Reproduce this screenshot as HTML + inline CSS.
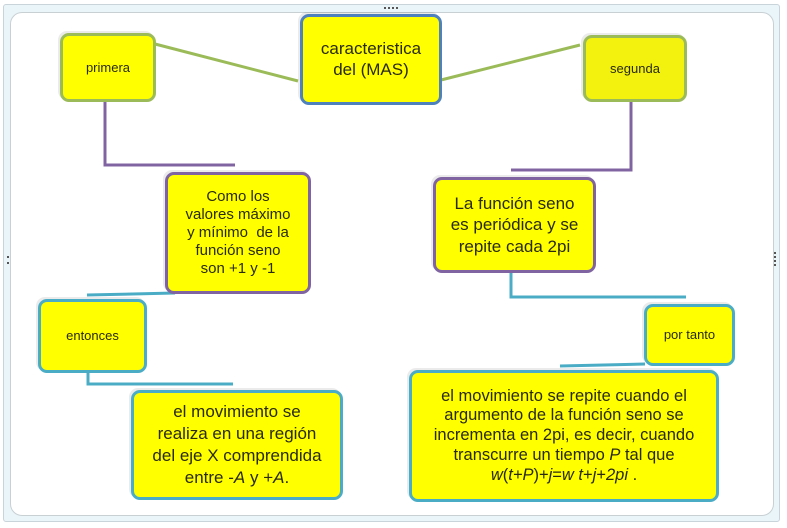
<!DOCTYPE html>
<html><head><meta charset="utf-8"><style>
body{margin:0;width:787px;height:528px;background:#fff;position:relative;overflow:hidden;font-family:"Liberation Sans",sans-serif;}
.frame{position:absolute;left:3px;top:4px;width:775px;height:516px;border:1px solid #c8d4da;background:#eaf5f9;border-radius:3px;}
.inner{position:absolute;left:10px;top:12px;width:762px;height:502px;border:1px solid #c8d0d4;background:#fff;border-radius:12px;}
.b{position:absolute;box-sizing:border-box;background:#ffff00;border-radius:9px;display:flex;align-items:center;justify-content:center;text-align:center;color:#2a2a10;line-height:1.22;box-shadow:-2px -2px 0 rgba(0,0,0,0.08);}
.b span{display:block;white-space:nowrap;}
.g{border:3px solid #9bbb59;}
.bl{border:3px solid #4f81bd;}
.p{border:3px solid #8064a2;}
.c{border:3px solid #4bacc6;}
svg{position:absolute;left:0;top:0;}
</style></head><body>
<div class="frame"></div>
<div class="inner"></div>
<svg width="787" height="528">
<g fill="none" stroke-width="3">
<line x1="155" y1="44" x2="298" y2="81" stroke="#9bbb59"/>
<line x1="441" y1="80" x2="580" y2="45" stroke="#9bbb59"/>
<polyline points="105,101 105,165 235,165" stroke="#8064a2"/>
<polyline points="631,101 631,170 511,170" stroke="#8064a2"/>
<polyline points="87,295 175,293" stroke="#4bacc6"/>
<polyline points="88,372 88,384 233,384" stroke="#4bacc6"/>
<polyline points="511,272 511,297 686,297" stroke="#4bacc6"/>
<polyline points="560,366 645,364" stroke="#4bacc6"/>
</g>
<g fill="#555"><rect x="384" y="7" width="2" height="2"/><rect x="388" y="7" width="2" height="2"/><rect x="392" y="7" width="2" height="2"/><rect x="396" y="7" width="2" height="2"/>
<rect x="774" y="252" width="2" height="2"/><rect x="774" y="256" width="2" height="2"/><rect x="774" y="260" width="2" height="2"/><rect x="774" y="264" width="2" height="2"/>
<rect x="7" y="256" width="2" height="2"/><rect x="7" y="262" width="2" height="2"/></g>
</svg>
<div class="b g" style="left:60px;top:33px;width:96px;height:69px;font-size:13px;"><span>primera</span></div>
<div class="b bl" style="left:300px;top:14px;width:142px;height:91px;font-size:17px;"><span>caracteristica<br>del (MAS)</span></div>
<div class="b g" style="left:583px;top:35px;width:104px;height:67px;font-size:13px;background:#f2f20e;"><span>segunda</span></div>
<div class="b p" style="left:165px;top:172px;width:146px;height:122px;font-size:15px;line-height:1.2;"><span>Como los<br>valores máximo<br>y mínimo&nbsp; de la<br>función seno<br>son +1 y -1</span></div>
<div class="b p" style="left:433px;top:177px;width:163px;height:96px;font-size:17px;line-height:1.25;"><span>La función seno<br>es periódica y se<br>repite cada 2pi</span></div>
<div class="b c" style="left:38px;top:299px;width:109px;height:74px;font-size:13px;"><span>entonces</span></div>
<div class="b c" style="left:644px;top:304px;width:91px;height:62px;font-size:13px;"><span>por tanto</span></div>
<div class="b c" style="left:131px;top:390px;width:212px;height:110px;font-size:17px;line-height:1.3;"><span>el movimiento se<br>realiza en una región<br>del eje X comprendida<br>entre -<i>A</i> y +<i>A</i>.</span></div>
<div class="b c" style="left:409px;top:370px;width:310px;height:132px;font-size:16.5px;line-height:1.2;"><span>el movimiento se repite cuando el<br>argumento de la función seno se<br>incrementa en 2pi, es decir, cuando<br>transcurre un tiempo <i>P</i> tal que<br><i>w</i>(<i>t+P</i>)+<i>j</i>=<i>w t</i>+<i>j</i>+<i>2pi</i> .</span></div>
</body></html>
